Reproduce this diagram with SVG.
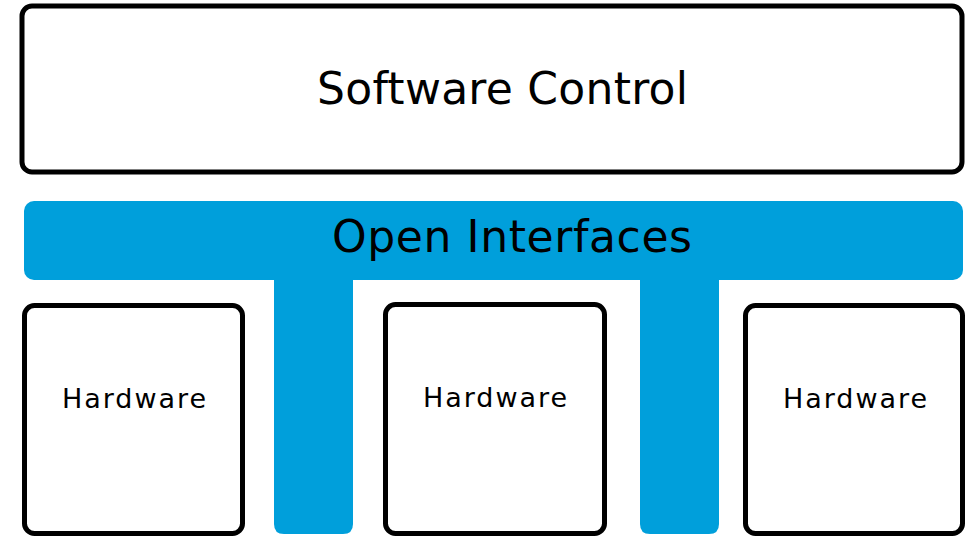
<svg xmlns="http://www.w3.org/2000/svg" width="966" height="536" viewBox="0 0 966 536">
  <style>
    .box { fill: #ffffff; stroke: #000000; stroke-width: 5; }
    .blue { fill: #009FDB; }
    .lbl { font-family: "DejaVu Sans", "Liberation Sans", Arial, sans-serif; fill: #000000; }
    .big { font-size: 44px; }
    .small { font-size: 27px; }
  </style>
  <rect x="0" y="0" width="966" height="536" fill="#ffffff"/>
  <g id="software-control">
    <rect class="box" x="22" y="6" width="940" height="166" rx="10"/>
    <text class="lbl big" x="317" y="104" textLength="371" lengthAdjust="spacing">Software Control</text>
  </g>
  <g id="open-interfaces">
    <rect class="blue" x="24" y="201" width="939" height="79" rx="10"/>
    <path class="blue" d="M274,270 V524 Q274,534 284,534 H343 Q353,534 353,524 V270 Z"/>
    <path class="blue" d="M640,270 V524 Q640,534 650,534 H709 Q719,534 719,524 V270 Z"/>
    <text class="lbl big" x="332" y="252" textLength="360" lengthAdjust="spacing">Open Interfaces</text>
  </g>
  <g id="hardware-1">
    <rect class="box" x="24.5" y="305.5" width="218" height="228" rx="10"/>
    <text class="lbl small" x="62" y="408" textLength="144" lengthAdjust="spacing">Hardware</text>
  </g>
  <g id="hardware-2">
    <rect class="box" x="385.5" y="304.5" width="219" height="229" rx="10"/>
    <text class="lbl small" x="423" y="407" textLength="144" lengthAdjust="spacing">Hardware</text>
  </g>
  <g id="hardware-3">
    <rect class="box" x="745.5" y="305.5" width="217" height="228" rx="10"/>
    <text class="lbl small" x="783" y="408" textLength="144" lengthAdjust="spacing">Hardware</text>
  </g>
  <g id="connectors"></g>
</svg>
